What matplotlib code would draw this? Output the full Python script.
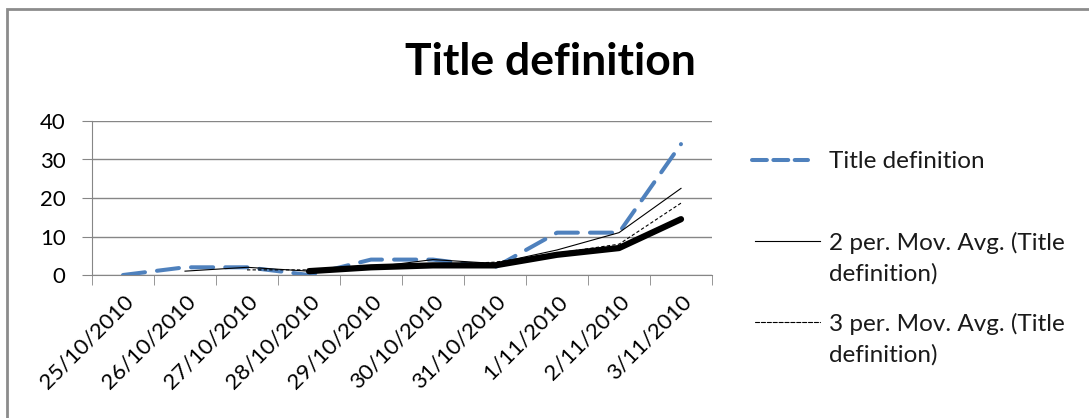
import matplotlib.pyplot as plt
import matplotlib.patches as mpatches
from matplotlib.lines import Line2D
import numpy as np

plt.rcParams['font.family'] = ['Lato', 'DejaVu Sans']

dates = ["25/10/2010", "26/10/2010", "27/10/2010", "28/10/2010", "29/10/2010",
         "30/10/2010", "31/10/2010", "1/11/2010", "2/11/2010", "3/11/2010"]
values = [0, 2, 2, 0, 4, 4, 2, 11, 11, 34]
# moving averages (None = no point yet)
avg2 = [None, 1, 2, 1, 2, 4, 3, 6.5, 11, 22.5]
avg3 = [None, None, 1.33, 1.33, 2, 2.67, 3.33, 5.67, 8, 18.67]
avg4 = [None, None, None, 1, 2, 2.5, 2.5, 5.25, 7, 14.5]

def arr(v):
    return np.array([np.nan if a is None else a for a in v], dtype=float)

x = np.arange(len(dates))
W, H = 1089, 418

fig = plt.figure(figsize=(W/100, H/100), dpi=100)
ax = fig.add_axes([92/W, 1 - 275/H, 620/W, 154/H])

l1, = ax.plot(x, values, color="#4F81BD", lw=2.9, dashes=(5.5, 3), dash_capstyle="round", zorder=3)
l2, = ax.plot(x, arr(avg2), color="black", lw=0.8, zorder=4)
l3, = ax.plot(x, arr(avg3), color="black", lw=0.8, dashes=(3, 2), zorder=4)
ax.plot(x, arr(avg4), color="black", lw=4.5, solid_capstyle="round", zorder=5)

ax.set_xlim(-0.5, len(dates) - 0.5)
ax.set_ylim(0, 40)
ax.set_yticks([0, 10, 20, 30, 40])
ax.yaxis.grid(True, color="#868686", lw=1)
ax.set_axisbelow(True)

ax.set_xticks(x)
ax.set_xticklabels(dates, rotation=45, ha="right", rotation_mode="anchor")
ax.set_xticks(np.arange(-0.5, len(dates)), minor=True)
ax.tick_params(axis="x", which="major", length=0, pad=12, labelsize=16)
ax.tick_params(axis="x", which="minor", length=7, color="#868686", direction="out")
ax.tick_params(axis="y", length=7, color="#868686", pad=12, labelsize=16)

for s in ["top", "right"]:
    ax.spines[s].set_visible(False)
for s in ["left", "bottom"]:
    ax.spines[s].set_color("#868686")

fig.text(550/W, 1 - 62/H, "Title definition", fontsize=32, fontweight="bold",
         ha="center", va="center")

# legend, key aligned with the first text line as in the original
legend_items = [(l1, "Title definition", 160, 752, 808),
                (l2, "2 per. Mov. Avg. (Title\ndefinition)", 241, 755, 820),
                (l3, "3 per. Mov. Avg. (Title\ndefinition)", 322, 755, 820)]
for line, label, yc, xa, xb in legend_items:
    key = Line2D([xa/W, xb/W], [1 - yc/H, 1 - yc/H], transform=fig.transFigure,
                 color=line.get_color(), lw=line.get_linewidth(),
                 linestyle=line.get_linestyle(), dash_capstyle="round")
    fig.add_artist(key)
    fig.text(829/W, 1 - (yc - 9)/H, label, fontsize=17.5, ha="left", va="top",
             linespacing=1.5, color="#1a1a1a")

# chart frame (left and top edges visible)
fig.add_artist(mpatches.Rectangle((7/W, -0.5), 2, 1.5 - 9/H, transform=fig.transFigure,
                                  fill=False, edgecolor="#8C8C8C", lw=2))

fig.savefig("out.png", dpi=100)
